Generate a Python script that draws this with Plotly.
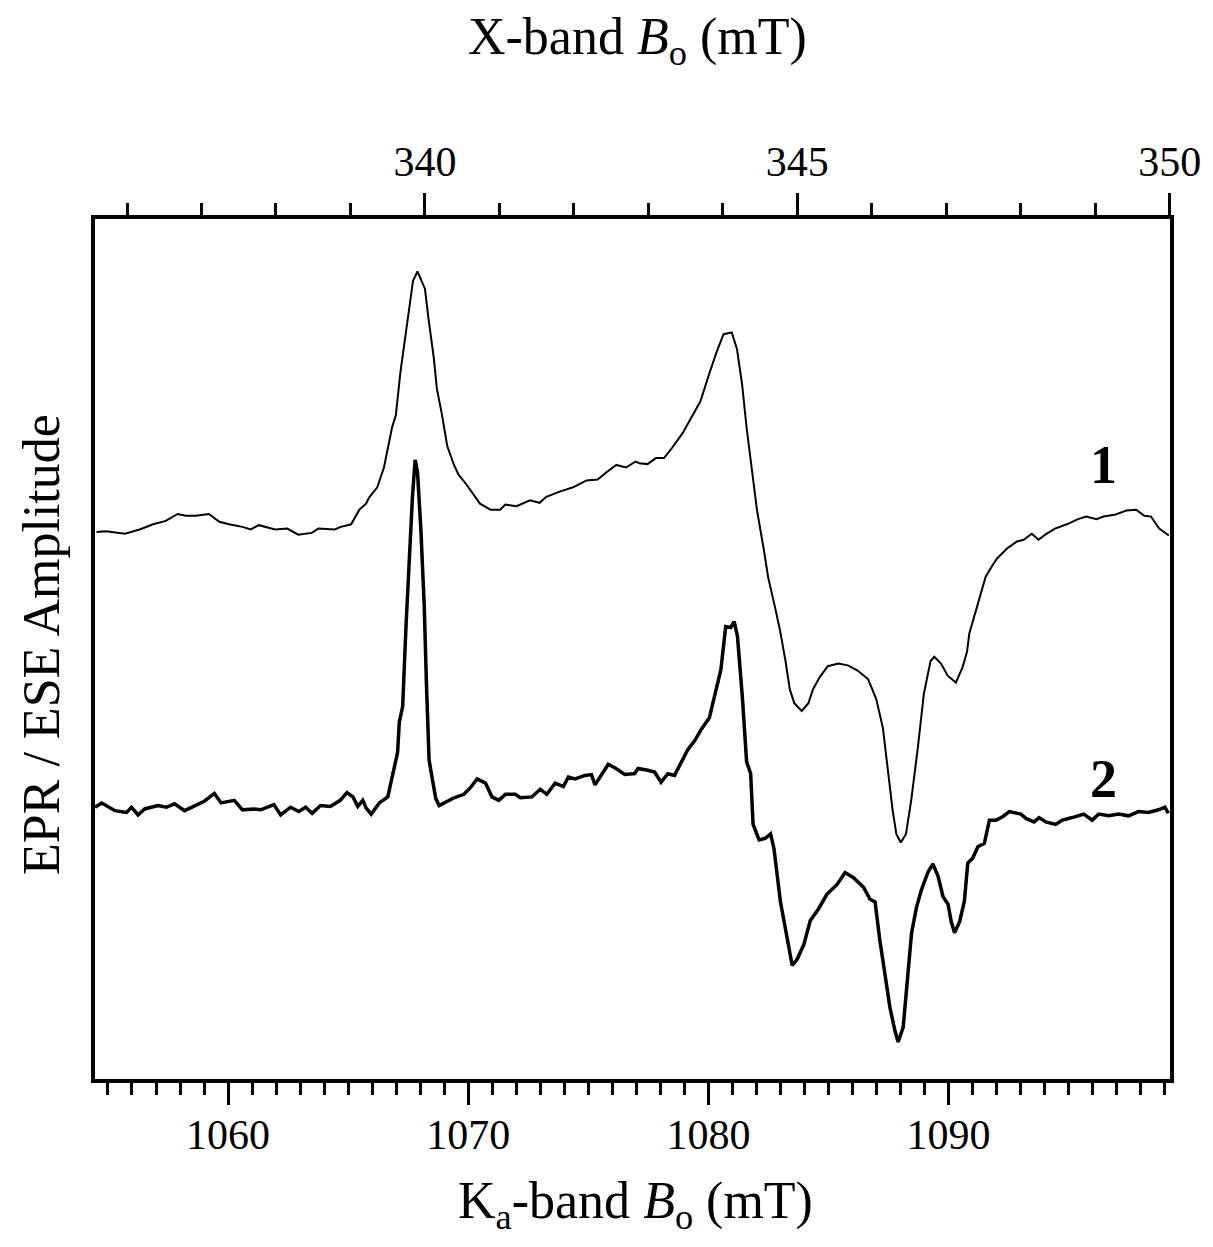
import plotly.graph_objects as go

# spectrum 1: X-band field (mT) and amplitude (arb. units)
xband_field = [
    335.59, 335.72, 335.97, 336.17, 336.35, 336.52, 336.68, 336.79, 336.92, 337.10,
    337.24, 337.37, 337.55, 337.66, 337.77, 337.99, 338.15, 338.30, 338.48, 338.57,
    338.79, 338.87, 339.01, 339.12, 339.21, 339.25, 339.36, 339.45, 339.56, 339.61,
    339.67, 339.72, 339.79, 339.84, 339.90, 340.00, 340.05, 340.12, 340.16, 340.23,
    340.30, 340.39, 340.45, 340.56, 340.74, 340.88, 341.01, 341.08, 341.23, 341.41,
    341.54, 341.63, 341.81, 341.99, 342.08, 342.17, 342.32, 342.43, 342.57, 342.70,
    342.83, 342.88, 342.99, 343.10, 343.21, 343.32, 343.46, 343.59, 343.70, 343.81,
    343.92, 344.01, 344.12, 344.19, 344.26, 344.32, 344.39, 344.46, 344.55, 344.61,
    344.70, 344.77, 344.84, 344.90, 344.96, 345.06, 345.15, 345.21, 345.30, 345.41,
    345.55, 345.68, 345.81, 345.95, 346.06, 346.15, 346.21, 346.28, 346.33, 346.39,
    346.46, 346.53, 346.62, 346.70, 346.79, 346.84, 346.93, 347.02, 347.13, 347.22,
    347.28, 347.31, 347.42, 347.53, 347.62, 347.68, 347.82, 347.95, 348.04, 348.15,
    348.24, 348.33, 348.46, 348.62, 348.77, 348.88, 349.02, 349.11, 349.26, 349.42,
    349.55, 349.66, 349.75, 349.86, 349.99,
]
xband_amp = [
    63.6, 63.7, 63.4, 63.9, 64.5, 64.9, 65.7, 65.5, 65.5, 65.7,
    64.8, 64.5, 64.2, 63.9, 64.4, 63.9, 64.0, 63.3, 63.5, 64.0,
    63.9, 64.2, 64.5, 66.2, 66.9, 67.6, 68.8, 71.1, 75.8, 77.2,
    82.1, 85.4, 90.1, 92.8, 93.9, 91.9, 88.3, 83.8, 80.3, 77.2,
    73.6, 71.4, 70.3, 69.1, 66.9, 66.2, 66.2, 66.8, 66.6, 67.3,
    67.0, 67.7, 68.3, 68.8, 69.2, 69.6, 69.7, 70.5, 71.4, 71.1,
    71.8, 71.6, 71.5, 72.2, 72.2, 73.4, 75.1, 77.1, 78.8, 81.8,
    84.6, 86.6, 86.8, 84.9, 80.7, 75.7, 71.2, 66.1, 61.6, 58.3,
    54.9, 52.1, 48.7, 45.3, 43.7, 42.8, 43.7, 45.3, 46.7, 48.0,
    48.3, 48.1, 47.5, 46.5, 44.2, 40.8, 36.4, 31.3, 28.5, 27.5,
    28.5, 32.4, 38.6, 44.8, 48.6, 49.1, 48.3, 46.9, 46.1, 47.9,
    49.7, 51.8, 55.1, 58.4, 59.7, 60.5, 61.7, 62.5, 62.7, 63.4,
    62.7, 63.3, 64.0, 64.5, 65.1, 65.4, 65.1, 65.4, 65.6, 66.1,
    66.2, 65.5, 65.4, 64.0, 63.2,
]

# spectrum 2: Ka-band field (mT) and amplitude (arb. units)
kaband_field = [
    1054.46, 1054.74, 1055.29, 1055.77, 1055.98, 1056.25, 1056.53, 1057.08, 1057.43, 1057.77,
    1058.19, 1058.60, 1059.01, 1059.43, 1059.71, 1060.26, 1060.60, 1061.08, 1061.36, 1061.91,
    1062.19, 1062.60, 1062.95, 1063.23, 1063.50, 1063.85, 1064.26, 1064.67, 1064.95, 1065.20,
    1065.40, 1065.61, 1065.75, 1065.96, 1066.30, 1066.65, 1066.85, 1067.06, 1067.13, 1067.27,
    1067.41, 1067.54, 1067.68, 1067.79, 1067.89, 1068.03, 1068.17, 1068.26, 1068.37, 1068.51,
    1068.65, 1068.79, 1069.06, 1069.41, 1069.82, 1070.10, 1070.37, 1070.72, 1070.99, 1071.27,
    1071.55, 1071.96, 1072.17, 1072.65, 1073.00, 1073.27, 1073.62, 1073.96, 1074.17, 1074.45,
    1074.86, 1075.13, 1075.28, 1075.55, 1075.83, 1076.10, 1076.52, 1076.93, 1077.07, 1077.48,
    1077.76, 1078.03, 1078.31, 1078.59, 1078.80, 1079.14, 1079.42, 1079.69, 1080.04, 1080.31,
    1080.52, 1080.72, 1080.93, 1081.07, 1081.21, 1081.42, 1081.59, 1081.76, 1081.86, 1082.11,
    1082.38, 1082.59, 1082.73, 1083.00, 1083.28, 1083.49, 1083.69, 1083.97, 1084.24, 1084.59,
    1084.94, 1085.35, 1085.69, 1086.04, 1086.46, 1086.73, 1086.94, 1087.14, 1087.35, 1087.56,
    1087.76, 1087.90, 1088.11, 1088.32, 1088.46, 1088.66, 1088.87, 1089.15, 1089.35, 1089.56,
    1089.77, 1089.98, 1090.11, 1090.25, 1090.46, 1090.66, 1090.80, 1091.01, 1091.22, 1091.49,
    1091.70, 1091.98, 1092.25, 1092.53, 1093.01, 1093.22, 1093.56, 1093.77, 1094.05, 1094.46,
    1094.74, 1095.15, 1095.63, 1095.98, 1096.25, 1096.67, 1097.08, 1097.49, 1097.91, 1098.32,
    1098.74, 1099.01, 1099.15,
]
kaband_amp = [
    31.6, 32.1, 31.2, 31.0, 31.6, 30.7, 31.4, 31.8, 31.6, 32.0,
    31.2, 31.8, 32.3, 33.2, 32.1, 32.4, 31.3, 31.4, 31.3, 31.9,
    30.7, 31.6, 31.1, 31.6, 30.9, 31.8, 31.7, 32.4, 33.3, 32.8,
    31.7, 32.4, 31.5, 30.8, 32.1, 32.8, 35.3, 38.0, 41.5, 43.3,
    52.7, 60.7, 67.8, 72.0, 70.5, 63.8, 54.9, 46.0, 37.1, 34.8,
    32.6, 31.8, 32.2, 32.7, 33.1, 33.9, 34.9, 34.4, 32.8, 32.4,
    33.1, 33.1, 32.7, 32.8, 33.7, 33.1, 34.4, 34.0, 35.1, 34.9,
    35.3, 35.4, 34.2, 35.3, 36.6, 36.2, 35.4, 35.5, 36.1, 35.9,
    35.7, 34.5, 35.5, 35.3, 36.5, 38.3, 39.3, 40.6, 42.0, 45.3,
    47.6, 52.6, 52.5, 53.2, 51.5, 44.2, 36.9, 35.5, 29.6, 27.8,
    28.0, 28.5, 26.8, 20.6, 16.1, 13.2, 13.9, 15.6, 18.4, 19.8,
    21.5, 22.6, 24.0, 23.4, 22.3, 20.9, 20.6, 16.1, 12.2, 8.3,
    5.7, 4.3, 6.0, 12.5, 17.0, 19.9, 22.0, 24.1, 25.0, 23.6,
    21.2, 20.3, 18.3, 17.0, 18.3, 20.7, 25.1, 25.7, 27.0, 27.4,
    30.1, 30.1, 30.5, 31.1, 30.8, 30.3, 29.9, 30.4, 29.9, 29.6,
    30.1, 30.4, 30.8, 30.1, 30.8, 30.6, 30.8, 30.6, 31.1, 31.0,
    31.3, 31.6, 30.9,
]

FONT = 'Liberation Serif'

fig = go.Figure()
fig.add_trace(go.Scatter(x=kaband_field, y=kaband_amp, mode='lines',
                         line=dict(color='black', width=3.5), xaxis='x', yaxis='y'))
fig.add_trace(go.Scatter(x=xband_field, y=xband_amp, mode='lines',
                         line=dict(color='black', width=2), xaxis='x2', yaxis='y'))

axis_common = dict(showline=True, linecolor='black', linewidth=4, showgrid=False,
                   zeroline=False, ticks='outside', ticklen=22, tickwidth=3, tickcolor='black',
                   tickfont=dict(family=FONT, size=42, color='black'))
minor_ticks = dict(dtick=1, ticklen=12, tickwidth=3, tickcolor='black', ticks='outside')

# the page body adds an 8px margin, so the figure is a bit smaller than the window
fig.update_layout(
    width=1205, height=1239,
    margin=dict(l=87, r=39, t=211, b=168),
    paper_bgcolor='white', plot_bgcolor='white',
    showlegend=False,
    xaxis=dict(range=[1054.46, 1099.22], tick0=1060, dtick=10, minor=minor_ticks,
               ticklabelstandoff=-6, **axis_common),
    xaxis2=dict(range=[335.57, 350.005], overlaying='x', side='top', tick0=340, dtick=5,
                minor=minor_ticks, **axis_common),
    yaxis=dict(range=[0, 100], showline=True, linecolor='black', linewidth=4, mirror=True,
               showgrid=False, zeroline=False, showticklabels=False, ticks=''),
    annotations=[
        dict(text='X-band <i>B</i><sub>o</sub> (mT)', xref='paper', yref='paper',
             x=0.505, y=1.208, xanchor='center', yanchor='middle', showarrow=False,
             font=dict(family=FONT, size=52, color='black')),
        dict(text='K<sub>a</sub>-band <i>B</i><sub>o</sub> (mT)', xref='paper', yref='paper',
             x=0.503, y=-0.146, xanchor='center', yanchor='middle', showarrow=False,
             font=dict(family=FONT, size=52, color='black')),
        dict(text='EPR / ESE Amplitude', xref='paper', yref='paper', textangle=-90,
             x=-0.05, y=0.505, xanchor='center', yanchor='middle', showarrow=False,
             font=dict(family=FONT, size=52, color='black')),
        dict(text='<b>1</b>', xref='paper', yref='paper', x=0.938, y=0.714,
             xanchor='center', yanchor='middle', showarrow=False,
             font=dict(family=FONT, size=54, color='black')),
        dict(text='<b>2</b>', xref='paper', yref='paper', x=0.938, y=0.349,
             xanchor='center', yanchor='middle', showarrow=False,
             font=dict(family=FONT, size=54, color='black')),
    ],
)

fig.write_html("out.html")
